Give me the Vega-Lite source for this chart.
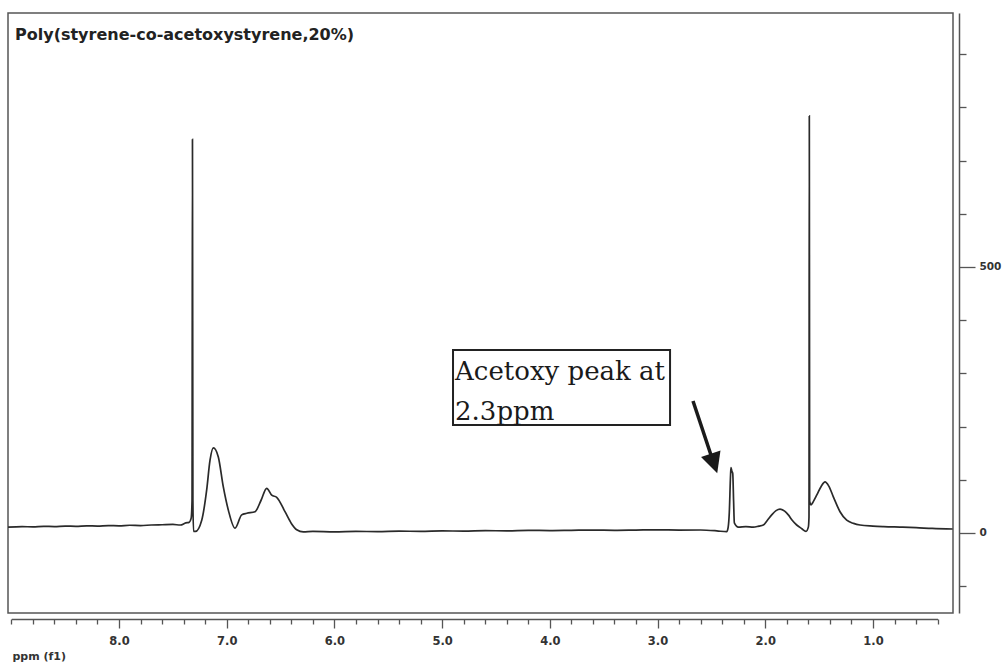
{
  "$schema": "https://vega.github.io/schema/vega-lite/v6.json",
  "width": 945,
  "height": 600,
  "autosize": {"type": "none"},
  "padding": {"left": 8, "top": 13, "right": 53, "bottom": 50},
  "background": "#ffffff",
  "config": {
    "view": {"stroke": "#555555", "strokeWidth": 1.5},
    "font": "DejaVu Sans"
  },
  "title": {
    "text": "Poly(styrene-co-acetoxystyrene,20%)",
    "anchor": "start",
    "frame": "group",
    "orient": "top",
    "offset": -43,
    "baseline": "alphabetic",
    "dx": 7,
    "font": "DejaVu Sans",
    "fontSize": 16,
    "fontWeight": "bold",
    "color": "#222222"
  },
  "datasets": {
    "spectrum": [
      {"ppm": 9.03, "intensity": 11}, {"ppm": 8.9, "intensity": 12}, {"ppm": 8.8, "intensity": 11.5},
      {"ppm": 8.7, "intensity": 12.5}, {"ppm": 8.6, "intensity": 12}, {"ppm": 8.5, "intensity": 13},
      {"ppm": 8.4, "intensity": 12.5}, {"ppm": 8.3, "intensity": 13.5}, {"ppm": 8.2, "intensity": 13},
      {"ppm": 8.1, "intensity": 14}, {"ppm": 8.0, "intensity": 13.5}, {"ppm": 7.9, "intensity": 14.5},
      {"ppm": 7.8, "intensity": 14}, {"ppm": 7.7, "intensity": 15}, {"ppm": 7.6, "intensity": 15.5},
      {"ppm": 7.5, "intensity": 16}, {"ppm": 7.43, "intensity": 15}, {"ppm": 7.38, "intensity": 19},
      {"ppm": 7.35, "intensity": 20}, {"ppm": 7.33, "intensity": 28}, {"ppm": 7.322, "intensity": 60},
      {"ppm": 7.318, "intensity": 740}, {"ppm": 7.314, "intensity": 60}, {"ppm": 7.308, "intensity": 3},
      {"ppm": 7.29, "intensity": 3}, {"ppm": 7.232, "intensity": 24}, {"ppm": 7.186, "intensity": 81},
      {"ppm": 7.155, "intensity": 137}, {"ppm": 7.124, "intensity": 160}, {"ppm": 7.078, "intensity": 143},
      {"ppm": 7.032, "intensity": 87}, {"ppm": 6.985, "intensity": 43}, {"ppm": 6.923, "intensity": 9},
      {"ppm": 6.861, "intensity": 34}, {"ppm": 6.814, "intensity": 37}, {"ppm": 6.737, "intensity": 40},
      {"ppm": 6.68, "intensity": 62}, {"ppm": 6.629, "intensity": 84}, {"ppm": 6.582, "intensity": 71},
      {"ppm": 6.536, "intensity": 67}, {"ppm": 6.459, "intensity": 40}, {"ppm": 6.40, "intensity": 18},
      {"ppm": 6.35, "intensity": 6}, {"ppm": 6.289, "intensity": 2}, {"ppm": 6.2, "intensity": 3},
      {"ppm": 6.0, "intensity": 2}, {"ppm": 5.8, "intensity": 3}, {"ppm": 5.6, "intensity": 2.5},
      {"ppm": 5.4, "intensity": 3.5}, {"ppm": 5.2, "intensity": 3}, {"ppm": 5.0, "intensity": 4},
      {"ppm": 4.8, "intensity": 3.5}, {"ppm": 4.6, "intensity": 4.5}, {"ppm": 4.4, "intensity": 4},
      {"ppm": 4.2, "intensity": 5}, {"ppm": 4.0, "intensity": 4.5}, {"ppm": 3.8, "intensity": 5},
      {"ppm": 3.6, "intensity": 5.5}, {"ppm": 3.4, "intensity": 5}, {"ppm": 3.2, "intensity": 5.5},
      {"ppm": 3.0, "intensity": 6}, {"ppm": 2.8, "intensity": 5.5}, {"ppm": 2.6, "intensity": 5.6},
      {"ppm": 2.45, "intensity": 4}, {"ppm": 2.358, "intensity": 2.4}, {"ppm": 2.345, "intensity": 10},
      {"ppm": 2.334, "intensity": 38}, {"ppm": 2.322, "intensity": 110}, {"ppm": 2.318, "intensity": 123},
      {"ppm": 2.31, "intensity": 116}, {"ppm": 2.302, "intensity": 112}, {"ppm": 2.294, "intensity": 60},
      {"ppm": 2.287, "intensity": 19}, {"ppm": 2.25, "intensity": 11}, {"ppm": 2.18, "intensity": 12},
      {"ppm": 2.111, "intensity": 11}, {"ppm": 2.06, "intensity": 13}, {"ppm": 2.018, "intensity": 15},
      {"ppm": 1.98, "intensity": 24}, {"ppm": 1.94, "intensity": 34}, {"ppm": 1.9, "intensity": 42},
      {"ppm": 1.863, "intensity": 45}, {"ppm": 1.82, "intensity": 41}, {"ppm": 1.786, "intensity": 34},
      {"ppm": 1.75, "intensity": 24}, {"ppm": 1.708, "intensity": 15}, {"ppm": 1.66, "intensity": 8},
      {"ppm": 1.622, "intensity": 3}, {"ppm": 1.6, "intensity": 11}, {"ppm": 1.594, "intensity": 30},
      {"ppm": 1.591, "intensity": 784}, {"ppm": 1.588, "intensity": 60}, {"ppm": 1.575, "intensity": 53},
      {"ppm": 1.554, "intensity": 59}, {"ppm": 1.52, "intensity": 72}, {"ppm": 1.48, "intensity": 88},
      {"ppm": 1.445, "intensity": 96}, {"ppm": 1.41, "intensity": 88}, {"ppm": 1.368, "intensity": 68},
      {"ppm": 1.306, "intensity": 40}, {"ppm": 1.244, "intensity": 24}, {"ppm": 1.18, "intensity": 18},
      {"ppm": 1.12, "intensity": 15}, {"ppm": 1.0, "intensity": 13}, {"ppm": 0.9, "intensity": 12},
      {"ppm": 0.75, "intensity": 11}, {"ppm": 0.6, "intensity": 10}, {"ppm": 0.45, "intensity": 8.5},
      {"ppm": 0.26, "intensity": 7.5}
    ],
    "box": [{"ppm": 4.899, "ppm_end": 2.884, "intensity": 344, "intensity_end": 203}],
    "notes": [
      {"ppm": 4.88, "intensity": 287.6, "label": "Acetoxy peak at"},
      {"ppm": 4.88, "intensity": 212.4, "label": "2.3ppm"}
    ],
    "arrow": [{"ppm": 2.671, "intensity": 248, "ppm_end": 2.504, "intensity_end": 146.6}],
    "head": [{"ppm": 2.476, "intensity": 130.6}]
  },
  "encoding": {
    "x": {
      "field": "ppm", "type": "quantitative",
      "scale": {"domain": [9.0, 0.4], "range": [3.3, 929.6], "nice": false, "zero": false},
      "axis": {
        "orient": "bottom", "offset": 6,
        "values": [9, 8.8, 8.6, 8.4, 8.2, 8, 7.8, 7.6, 7.4, 7.2, 7, 6.8, 6.6, 6.4, 6.2, 6, 5.8, 5.6, 5.4, 5.2, 5, 4.8, 4.6, 4.4, 4.2, 4, 3.8, 3.6, 3.4, 3.2, 3, 2.8, 2.6, 2.4, 2.2, 2, 1.8, 1.6, 1.4, 1.2, 1, 0.8, 0.6, 0.4],
        "labelExpr": "datum.value == round(datum.value) && datum.value < 8.5 ? format(datum.value, '.1f') : ''",
        "tickSize": {"condition": {"test": "datum.value == round(datum.value) && datum.value < 8.5", "value": 9}, "value": 5},
        "domainColor": "#555555", "domainWidth": 1.5,
        "tickColor": "#555555", "tickWidth": 1.3,
        "labelFont": "DejaVu Sans", "labelFontSize": 11.5, "labelFontWeight": "bold", "labelColor": "#333333",
        "labelPadding": 7, "labelFlush": false, "labelOverlap": false,
        "grid": false,
        "title": "ppm (f1)",
        "titleFont": "DejaVu Sans", "titleFontSize": 11, "titleFontWeight": "bold", "titleColor": "#333333",
        "titleAnchor": "start", "titleAlign": "left", "titleBaseline": "alphabetic",
        "titleX": 4, "titleY": 40
      }
    },
    "y": {
      "field": "intensity", "type": "quantitative",
      "scale": {"domain": [-150.4, 977.4], "nice": false, "zero": false},
      "axis": {
        "orient": "right", "offset": 6,
        "values": [-100, 0, 100, 200, 300, 400, 500, 600, 700, 800, 900],
        "labelExpr": "datum.value == 0 || datum.value == 500 ? datum.label : ''",
        "tickSize": {"condition": {"test": "datum.value == 0 || datum.value == 500", "value": 16}, "value": 7},
        "domainColor": "#555555", "domainWidth": 1.5,
        "tickColor": "#555555", "tickWidth": 1.3,
        "labelFont": "DejaVu Sans", "labelFontSize": 10.5, "labelFontWeight": "bold", "labelColor": "#333333",
        "labelPadding": 4, "labelFlush": false, "labelOverlap": false,
        "grid": false,
        "title": null
      }
    }
  },
  "layer": [
    {
      "data": {"name": "spectrum"},
      "mark": {"type": "line", "color": "#2a2a2a", "strokeWidth": 1.7, "interpolate": "monotone", "clip": false}
    },
    {
      "data": {"name": "box"},
      "mark": {"type": "rect", "fillOpacity": 0, "stroke": "#222222", "strokeWidth": 2, "clip": false},
      "encoding": {
        "x2": {"field": "ppm_end"},
        "y2": {"field": "intensity_end"}
      }
    },
    {
      "data": {"name": "notes"},
      "mark": {"type": "text", "align": "left", "baseline": "alphabetic", "font": "DejaVu Serif", "fontSize": 26, "color": "#1a1a1a", "clip": false},
      "encoding": {
        "text": {"field": "label"}
      }
    },
    {
      "data": {"name": "arrow"},
      "mark": {"type": "rule", "color": "#1a1a1a", "strokeWidth": 3.5, "clip": false},
      "encoding": {
        "x2": {"field": "ppm_end"},
        "y2": {"field": "intensity_end"}
      }
    },
    {
      "data": {"name": "head"},
      "mark": {"type": "point", "shape": "M-1,-1L1,-1L0,1Z", "filled": true, "color": "#1a1a1a", "opacity": 1, "size": 420, "angle": -18.4, "clip": false}
    }
  ]
}
